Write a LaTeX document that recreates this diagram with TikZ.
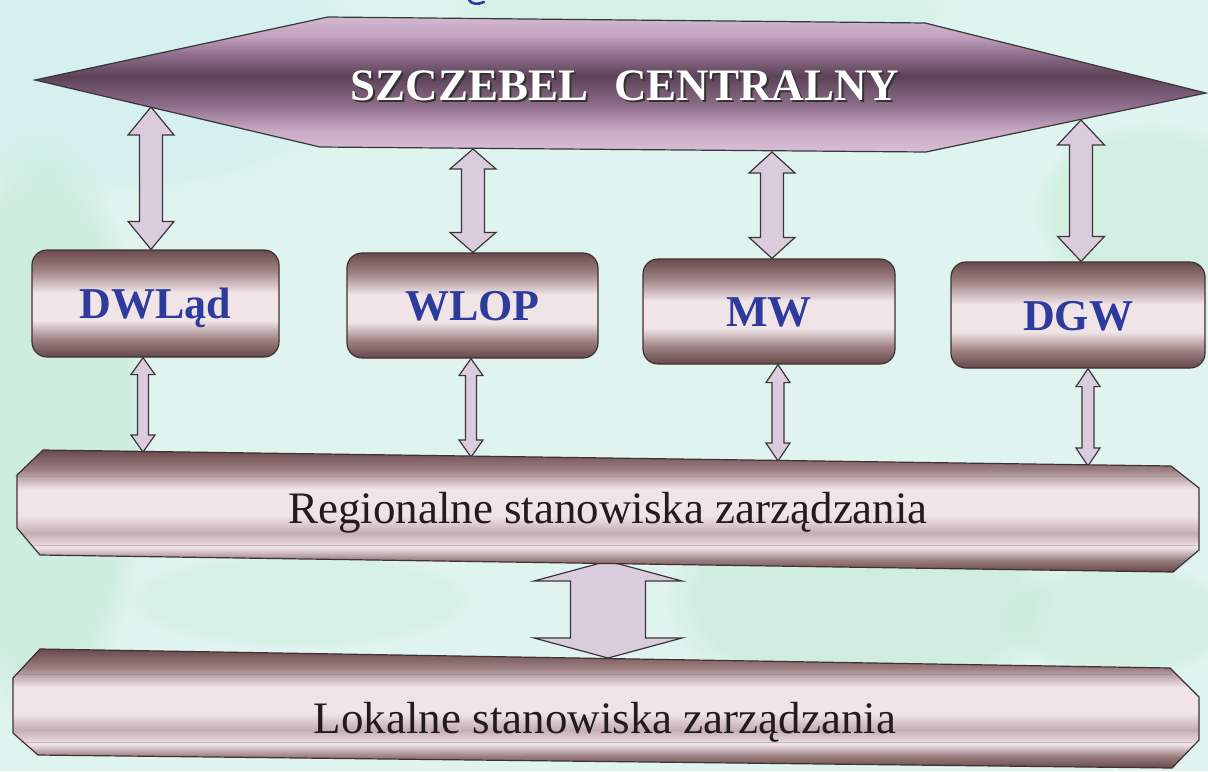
\documentclass[tikz,border=0pt]{standalone}
\usepackage{fontspec}
\setmainfont{Liberation Serif}
\usetikzlibrary{calc,fadings}

% palette
\definecolor{bgbase}{HTML}{E0F4EF}
\definecolor{bgpatch}{HTML}{C2EAD2}
\definecolor{bgcyan}{HTML}{D5F0EE}
\definecolor{arrowfill}{HTML}{DACBDD}
\definecolor{outline}{HTML}{3C3638}
\definecolor{boxedge}{HTML}{3F3133}
\definecolor{hexedge}{HTML}{34383A}
\definecolor{labelblue}{HTML}{2C3B9C}
\definecolor{textdark}{HTML}{241B1C}
% banner shading
\definecolor{hexB}{HTML}{D8BFD5}
\definecolor{hexLB}{HTML}{C8A9C4}
\definecolor{hexMD}{HTML}{8A6A86}
\definecolor{hexD}{HTML}{5C4158}
\definecolor{hexMU}{HTML}{8E6E8A}
\definecolor{hexLT}{HTML}{C2A2BF}
\definecolor{hexT}{HTML}{D3B8D0}
% box and band shading
\definecolor{boxT}{HTML}{6A4B4D}
\definecolor{boxM}{HTML}{9C7F81}
\definecolor{boxL}{HTML}{F0E4E7}
\definecolor{boxB}{HTML}{65484A}
\definecolor{bandMid}{HTML}{C4AEB1}
\definecolor{edgeshade}{HTML}{4E3638}

\pgfdeclareverticalshading{hexshade}{100bp}{color(0bp)=(hexB); color(25bp)=(hexB);
  color(33bp)=(hexLB); color(43bp)=(hexMD); color(53bp)=(hexD); color(61bp)=(hexMU);
  color(68bp)=(hexLT); color(75bp)=(hexT); color(100bp)=(hexT)}
\pgfdeclareverticalshading{boxshade}{100bp}{color(0bp)=(boxB); color(25bp)=(boxB);
  color(33bp)=(boxM); color(42bp)=(boxL); color(55bp)=(boxL); color(66bp)=(boxM);
  color(75bp)=(boxT); color(100bp)=(boxT)}
\pgfdeclareverticalshading{bandshade}{100bp}{color(0bp)=(boxB); color(25bp)=(boxB);
  color(30bp)=(boxM); color(35bp)=(boxL); color(41bp)=(bandMid); color(48bp)=(boxL);
  color(59bp)=(boxL); color(67bp)=(boxM); color(75bp)=(boxT); color(100bp)=(boxT)}

% darkening towards the left and right ends of a box
\begin{tikzfadingfrompicture}[name=boxends]
  \fill[transparent!100] (0,0) rectangle (4,1);
  \shade[left color=transparent!40, right color=transparent!100] (0,0) rectangle (0.4,1);
  \shade[left color=transparent!100, right color=transparent!40] (3.6,0) rectangle (4,1);
\end{tikzfadingfrompicture}
\begin{tikzfadingfrompicture}[name=bandends]
  \fill[transparent!100] (0,0) rectangle (10,1);
  \shade[left color=transparent!45, right color=transparent!100] (0,0) rectangle (0.25,1);
  \shade[left color=transparent!100, right color=transparent!45] (9.75,0) rectangle (10,1);
\end{tikzfadingfrompicture}

\newcommand\hexfont{\fontsize{22.5}{27}\selectfont\bfseries}
\newcommand\lblfont{\fontsize{22}{26}\selectfont\bfseries}
\newcommand\bandfont{\fontsize{22.5}{27}\selectfont}

\pgfdeclarelayer{bglayer}
\pgfdeclarelayer{arrowlayer}
\pgfsetlayers{bglayer,arrowlayer,main}

\tikzset{
  arrowbody/.style={fill=arrowfill, draw=outline, line width=0.6pt, line join=miter},
  hexshape/.style={draw=hexedge, line width=0.6pt, shade, shading=hexshade},
  boxnode/.style={draw=boxedge, line width=0.6pt, rounded corners=7.5pt, shade,
    shading=boxshade, inner sep=0pt, font=\lblfont, text=labelblue,
    text height=15pt, text depth=0pt,
    append after command={
      \pgfextra{\fill[edgeshade, rounded corners=7.5pt, path fading=boxends]
        (\tikzlastnode.south west) rectangle (\tikzlastnode.north east);}}},
  bandshape/.style={draw=boxedge, line width=0.6pt, shade, shading=bandshade},
  bandends/.style={fill=edgeshade, path fading=bandends},
  bandlabel/.style={font=\bandfont, text=textdark, anchor=base, inner sep=0pt},
  hexlabel/.style={font=\hexfont, anchor=base, inner sep=0pt},
}

% vertical two-headed block arrow:
% #1 top tip, #2 bottom tip, #3 shaft half width, #4 head half width, #5 head length
\newcommand\blockarrow[5]{%
  \path[arrowbody] (#1) -- ++(#4,#5) -- ++({#3-#4},0) -- ($(#2)+(#3,-#5)$)
    -- ++({#4-#3},0) -- (#2) -- ++({-#4},{-#5}) -- ++({#4-#3},0)
    -- ($(#1)+(-#3,#5)$) -- ++({#3-#4},0) -- cycle;}

\begin{document}
\begin{tikzpicture}[x=0.5pt, y=-0.5pt]
\useasboundingbox (0,0) rectangle (1208,771);

% ---- background ----
\begin{pgfonlayer}{bglayer}
  \fill[bgbase] (0,0) rectangle (1208,771);
  \fill[bgcyan, path fading=circle with fuzzy edge 20 percent]
    (120,60) ellipse [x radius=260, y radius=140];
  \fill[bgpatch, fill opacity=0.6, path fading=circle with fuzzy edge 20 percent]
    (40,430) ellipse [x radius=110, y radius=300];
  \fill[bgpatch, fill opacity=0.55, path fading=circle with fuzzy edge 20 percent]
    (860,600) ellipse [x radius=200, y radius=110];
  \fill[bgpatch, fill opacity=0.45, path fading=circle with fuzzy edge 20 percent]
    (1150,210) ellipse [x radius=120, y radius=90];
  \fill[bgpatch, fill opacity=0.35, path fading=circle with fuzzy edge 20 percent]
    (700,10) ellipse [x radius=260, y radius=40];
  \fill[bgpatch, fill opacity=0.4, path fading=circle with fuzzy edge 20 percent]
    (1120,620) ellipse [x radius=120, y radius=60];
  \fill[bgpatch, fill opacity=0.35, path fading=circle with fuzzy edge 20 percent]
    (300,600) ellipse [x radius=180, y radius=50];
\end{pgfonlayer}

% fragment of a blue letter at the upper edge
\draw[labelblue, line width=1.3pt, line cap=round]
  (469,0) .. controls (471,4) and (478,5) .. (484,2);

% ---- central level banner ----
\path[hexshape] (35,80) -- (328,17) -- (925,23) -- (1206,93) -- (926,152) -- (320,147) -- cycle;
\node[hexlabel, text=black!80] (centralshadow) at (627,102)
  {SZCZEBEL\hspace{13pt}CENTRALNY};
\node[hexlabel, text=white] (central) at (625,100)
  {SZCZEBEL\hspace{13pt}CENTRALNY};

% ---- services ----
\node[boxnode, minimum width=123.5pt, minimum height=53.5pt] (dwlad) at (155.5,303.5) {DWLąd};
\node[boxnode, minimum width=125.5pt, minimum height=52.5pt] (wlop) at (472.5,305.5) {WLOP};
\node[boxnode, minimum width=126pt, minimum height=52.5pt] (mw) at (769,311.5) {MW};
\node[boxnode, minimum width=127pt, minimum height=53pt] (dgw) at (1078,315) {DGW};

% ---- regional and local levels ----
\path[bandshape] (43,450) -- (1171,466) -- (1199,488) -- (1199,550) -- (1173,572)
  -- (40,555) -- (17,528) -- (17,475) -- cycle;
\path[bandends] (43,450) -- (1171,466) -- (1199,488) -- (1199,550) -- (1173,572)
  -- (40,555) -- (17,528) -- (17,475) -- cycle;
\node[bandlabel] (regional) at (608,523) {Regionalne stanowiska zarządzania};

\path[bandshape] (40,649) -- (1170,668) -- (1199,697) -- (1199,740) -- (1172,768)
  -- (38,755) -- (13,733) -- (13,678) -- cycle;
\path[bandends] (40,649) -- (1170,668) -- (1199,697) -- (1199,740) -- (1172,768)
  -- (38,755) -- (13,733) -- (13,678) -- cycle;
\node[bandlabel] (local) at (605,733) {Lokalne stanowiska zarządzania};

% ---- arrow end points ----
\coordinate (a1t) at (151,107);  \coordinate (a1b) at (a1t |- dwlad.north);
\coordinate (a2t) at (473,149);  \coordinate (a2b) at (a2t |- wlop.north);
\coordinate (a3t) at (772,152);  \coordinate (a3b) at (a3t |- mw.north);
\coordinate (a4t) at (1081,120); \coordinate (a4b) at (a4t |- dgw.north);

\coordinate (b1b) at (143,452);  \coordinate (b1t) at (b1b |- dwlad.south);
\coordinate (b2b) at (471,457);  \coordinate (b2t) at (b2b |- wlop.south);
\coordinate (b3b) at (778,461);  \coordinate (b3t) at (b3b |- mw.south);
\coordinate (b4b) at (1088,466); \coordinate (b4t) at (b4b |- dgw.south);

\coordinate (ct) at (608,561);   \coordinate (cb) at (608,658);

% ---- connectors ----
\begin{pgfonlayer}{arrowlayer}
  \blockarrow{a1t}{a1b}{11.5}{23}{28}
  \blockarrow{a2t}{a2b}{11.5}{23}{20}
  \blockarrow{a3t}{a3b}{11.5}{23}{21}
  \blockarrow{a4t}{a4b}{11.5}{23.5}{25}

  \blockarrow{b1t}{b1b}{5.5}{12}{17}
  \blockarrow{b2t}{b2b}{5.5}{12}{17}
  \blockarrow{b3t}{b3b}{6}{12}{18}
  \blockarrow{b4t}{b4b}{6}{12}{18}

  \blockarrow{ct}{cb}{37.5}{74}{20}
\end{pgfonlayer}
\end{tikzpicture}
\end{document}
